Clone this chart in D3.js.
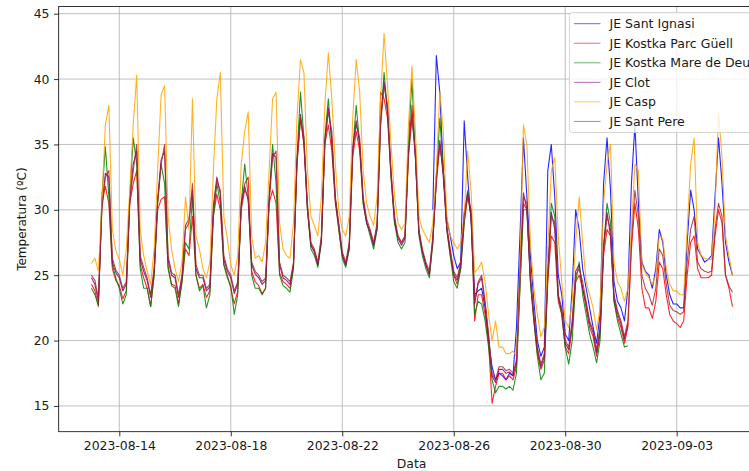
<!DOCTYPE html>
<html>
<head>
<meta charset="utf-8">
<script src="https://cdn.jsdelivr.net/npm/d3@7"></script>
<style>
body { margin: 0; background: #fff; overflow: hidden; }
svg { display: block; font-family: "DejaVu Sans", sans-serif; }
</style>
</head>
<body>
<div id="chart"></div>
<script>
// one row per day, samples every 3 hours (0h .. 21h); null = no reading
var days = ["2023-08-13", "2023-08-14", "2023-08-15", "2023-08-16", "2023-08-17", "2023-08-18",
	"2023-08-19", "2023-08-20", "2023-08-21", "2023-08-22", "2023-08-23", "2023-08-24",
	"2023-08-25", "2023-08-26", "2023-08-27", "2023-08-28", "2023-08-29", "2023-08-30",
	"2023-08-31", "2023-09-01", "2023-09-02", "2023-09-03", "2023-09-04", "2023-09-05"];
var sampleHours = [0, 3, 6, 9, 12, 15, 18, 21];
var xTickLabels = ["2023-08-14", "2023-08-18", "2023-08-22", "2023-08-26", "2023-08-30", "2023-09-03"];
var yTickValues = [15, 20, 25, 30, 35, 40, 45];

var santIgnasi = [
	null, null, null, null, null, null, null, null, null, null, null, null,
	[null, null, 30.0, 41.8, 39.0, 33.0, 29.3, 28.0],
	[26.5, 25.5, 26.0, 36.8, 32.5, 29.0, 23.5, 23.8],
	[24.0, 22.5, 20.0, 18.0, 17.0, 17.5, 17.3, 17.0],
	[17.5, 17.3, 21.0, 28.0, 35.5, 31.0, 26.5, 23.0],
	[20.0, 18.8, 19.5, 33.0, 35.0, 31.0, 25.0, 23.5],
	[20.5, 20.0, 24.0, 30.0, 28.5, 25.5, 24.0, 22.5],
	[21.0, 19.8, 22.0, 32.0, 35.5, 31.5, 24.5, 23.0],
	[22.5, 21.5, 24.0, 32.0, 36.5, 30.5, 26.0, 25.3],
	[25.0, 24.0, 25.5, 28.5, 27.5, 25.0, 23.5, 22.8],
	[22.8, 22.5, 22.5, 27.5, 31.5, 30.0, 27.0, 26.5],
	[26.0, 26.2, 26.5, 31.0, 35.5, 32.0, 27.5, 26.0],
	[25.0, null, null, null, null, null, null, null]
];
var kostkaParcGuell = [
	[24.3, 23.8, 22.6, 30.5, 31.8, 30.5, 25.5, 24.6],
	[24.2, 23.2, 23.8, 30.5, 32.0, 33.0, 25.8, 24.8],
	[24.0, 22.6, 25.0, 30.0, 30.8, 31.0, 25.7, 24.3],
	[24.2, 22.8, 24.5, 27.0, 26.5, 29.5, 25.0, 24.0],
	[24.3, 23.3, 23.8, 29.5, 31.2, 30.0, 25.8, 25.0],
	[24.0, 22.8, 23.8, 30.5, 32.0, 32.5, 25.3, 24.5],
	[24.2, 23.6, 24.0, 30.5, 31.5, 30.5, 25.2, 24.5],
	[24.3, 24.0, 25.8, 33.5, 37.0, 35.0, 30.0, 27.3],
	[26.8, 25.8, 27.5, 35.0, 36.5, 34.5, 30.5, 28.5],
	[26.5, 25.8, 27.0, 34.0, 36.0, 34.5, 30.5, 29.0],
	[28.3, 27.3, 28.5, 39.0, 38.5, 37.0, 32.5, 29.0],
	[28.0, 27.5, 28.0, 34.5, 38.0, 34.0, 28.3, 26.8],
	[25.8, 25.0, 27.5, 32.5, 35.0, 33.0, 28.5, 26.5],
	[25.0, 24.3, 25.5, 29.0, 31.0, 29.5, 21.5, 23.5],
	[23.5, 22.0, 19.8, 15.2, 16.5, 17.5, 17.5, 17.0],
	[17.3, 17.0, 18.0, 24.0, 30.5, 30.0, 24.5, 21.5],
	[19.0, 17.8, 18.5, 24.5, 28.0, 27.5, 23.0, 22.0],
	[19.5, 19.0, 21.0, 24.5, 25.0, 24.0, 22.5, 21.0],
	[20.3, 18.8, 20.5, 26.5, 28.5, 28.0, 23.0, 21.8],
	[21.0, 19.8, 21.0, 27.0, 30.5, 28.5, 24.0, 22.5],
	[22.5, 21.7, 23.0, 26.0, 25.5, 23.5, 22.0, 21.5],
	[21.3, 21.0, 21.5, 25.0, 27.5, 28.0, 25.5, 24.8],
	[24.8, 24.8, 25.0, 28.0, 30.0, 29.0, 25.0, 24.0],
	[22.6, null, null, null, null, null, null, null]
];
var kostkaMareDeDeu = [
	[24.0, 23.5, 22.7, 31.0, 34.8, 31.0, 25.8, 24.8],
	[24.0, 22.8, 23.5, 31.0, 35.5, 33.5, 25.5, 24.0],
	[24.0, 22.6, 25.0, 30.5, 33.5, 32.0, 25.5, 24.2],
	[24.0, 22.6, 24.5, 27.5, 27.0, 31.0, 25.0, 23.8],
	[24.2, 22.5, 23.5, 29.5, 32.0, 30.5, 25.8, 24.8],
	[24.2, 22.0, 23.5, 30.5, 33.5, 31.0, 25.0, 24.0],
	[24.0, 23.5, 24.0, 31.0, 35.0, 32.0, 25.0, 24.2],
	[24.0, 23.7, 25.5, 34.0, 39.0, 35.5, 30.0, 27.0],
	[26.5, 25.6, 27.5, 35.5, 38.5, 35.0, 31.0, 28.5],
	[26.3, 25.6, 27.0, 34.5, 38.0, 35.0, 30.5, 29.0],
	[28.0, 27.0, 28.5, 36.5, 40.5, 37.5, 32.5, 29.0],
	[27.5, 27.0, 27.5, 35.0, 40.0, 34.0, 28.0, 26.5],
	[25.5, 24.8, 27.5, 32.5, 37.0, 33.0, 28.5, 26.5],
	[24.5, 24.0, 25.5, 29.0, 31.5, 29.5, 22.0, 23.0],
	[22.8, 21.5, 19.5, 17.0, 16.0, 16.5, 16.5, 16.3],
	[16.5, 16.2, 17.5, 24.0, 30.0, 30.0, 24.5, 21.5],
	[18.8, 17.0, 17.5, 25.0, 30.5, 29.5, 23.5, 22.0],
	[19.5, 18.2, 20.0, 24.5, 26.0, 23.5, 22.0, 20.5],
	[19.5, 18.3, 20.0, 27.0, 30.5, 29.0, 23.0, 21.5],
	[20.5, 19.5, 19.6, null, null, null, null, null]
];
var clot = [
	[24.8, 24.3, 23.0, 30.2, 32.8, 32.5, 26.0, 25.2],
	[24.8, 23.8, 24.3, 30.8, 33.5, 34.5, 26.2, 25.3],
	[24.6, 23.3, 25.3, 30.8, 33.8, 34.5, 26.2, 25.0],
	[24.8, 23.3, 24.8, 28.8, 29.3, 31.5, 25.5, 24.8],
	[24.8, 23.8, 24.1, 30.3, 32.5, 31.2, 26.2, 25.3],
	[24.8, 23.6, 24.3, 30.3, 31.8, 30.7, 25.8, 25.1],
	[24.8, 24.3, 24.6, 30.8, 34.3, 34.0, 25.8, 24.8],
	[24.6, 24.3, 25.8, 33.8, 37.3, 35.0, 30.2, 27.3],
	[26.8, 25.8, 27.8, 35.3, 37.8, 35.5, 30.8, 28.8],
	[26.6, 25.8, 27.3, 34.8, 36.8, 35.0, 30.8, 29.0],
	[28.3, 27.3, 28.8, 36.8, 39.8, 37.5, 32.8, 29.3],
	[27.8, 27.3, 27.8, 34.3, 37.3, 34.0, 28.3, 26.8],
	[25.8, 25.1, 27.8, 32.3, 35.3, 32.5, 28.6, 26.8],
	[25.1, 24.6, 25.8, 29.8, 31.3, 29.5, 22.8, 24.3],
	[24.8, 22.8, 20.3, 17.3, 16.8, 17.8, 17.8, 17.5],
	[17.6, 17.3, 18.3, 25.3, 31.3, 30.0, 24.8, 21.8],
	[19.3, 18.0, 18.8, 25.3, 29.8, 28.5, 23.3, 22.3],
	[19.8, 19.3, 21.3, 25.3, 25.8, 24.0, 22.8, 21.3],
	[20.6, 19.1, 20.8, 27.3, 29.8, 28.0, 23.3, 22.1],
	[21.3, 20.1, 21.3, null, null, null, null, null]
];
var casp = [
	[25.9, 26.3, 25.3, 30.5, 36.5, 38.0, 28.5, 26.9],
	[26.2, 25.0, 27.0, 31.5, 36.5, 40.3, 28.5, 26.5],
	[25.3, 24.3, 27.0, 33.0, 38.8, 39.5, 29.5, 27.0],
	[25.5, 24.5, 26.0, 31.0, 28.5, 38.5, 28.0, 27.0],
	[25.5, 24.8, 26.0, 33.0, 38.5, 40.5, 29.5, 27.8],
	[25.8, 25.0, 26.5, 33.5, 36.0, 37.5, 28.0, 26.3],
	[26.5, 26.0, 27.5, 33.0, 38.5, 39.0, 29.0, 27.0],
	[26.5, 26.3, 29.0, 37.0, 41.5, 40.5, 33.0, 29.5],
	[28.8, 28.0, 31.0, 38.0, 42.0, 38.5, 33.5, 30.0],
	[28.5, 28.0, 29.5, 37.0, 41.5, 39.0, 33.0, 30.5],
	[29.5, 28.8, 31.0, 38.5, 43.5, 39.5, 35.0, 31.0],
	[29.0, 28.5, 29.0, 36.5, 41.0, 36.0, 29.5, 28.5],
	[28.0, 27.5, 29.0, 33.0, 39.0, 36.0, 29.5, 28.0],
	[27.5, 27.0, 27.5, 29.5, 34.5, 31.3, 25.2, 25.5],
	[26.0, 24.5, 22.0, 20.0, 21.5, 19.5, 19.5, 19.0],
	[19.0, 19.2, 18.8, 25.0, 36.5, 34.9, 27.5, 24.0],
	[22.0, 20.3, 21.0, 27.0, 33.0, 34.0, 28.0, 24.5],
	[21.5, 21.0, 23.0, 27.5, 31.0, 27.5, 24.5, 23.5],
	[22.5, 20.8, 22.5, 30.5, 33.5, 35.0, 26.0, 24.5],
	[24.0, 23.0, 24.0, 28.5, 33.5, 33.0, 25.8, 25.2],
	[24.8, 24.3, 25.0, 28.0, 27.8, 25.5, 24.3, 23.8],
	[23.8, 23.5, 23.5, 28.5, 33.5, 35.5, 27.5, 26.5],
	[26.3, 26.2, 26.2, 30.0, 37.5, 34.0, 28.0, 26.5],
	[25.0, null, null, null, null, null, null, null]
];
var santPere = [
	[25.0, 24.6, 23.2, 30.0, 32.5, 33.0, 26.3, 25.4],
	[25.0, 24.0, 24.5, 30.5, 33.0, 35.0, 26.5, 25.6],
	[24.8, 23.5, 25.5, 30.5, 33.5, 35.0, 26.5, 25.2],
	[25.0, 23.5, 25.0, 28.5, 29.0, 32.0, 25.8, 25.0],
	[25.0, 24.0, 24.3, 30.0, 32.2, 31.5, 26.5, 25.5],
	[25.0, 23.8, 24.5, 30.0, 31.5, 31.0, 26.0, 25.3],
	[25.0, 24.5, 24.8, 30.5, 34.0, 34.5, 26.0, 25.0],
	[24.8, 24.5, 26.0, 33.5, 37.0, 35.5, 30.5, 27.5],
	[27.0, 26.0, 28.0, 35.0, 37.5, 36.0, 31.0, 29.0],
	[26.8, 26.0, 27.5, 34.5, 36.5, 35.5, 31.0, 29.3],
	[28.5, 27.5, 29.0, 36.5, 39.5, 38.0, 33.0, 29.5],
	[28.0, 27.5, 28.0, 34.0, 37.0, 34.5, 28.5, 27.0],
	[26.0, 25.3, 28.0, 32.0, 35.0, 33.0, 28.8, 27.0],
	[25.3, 24.8, 26.0, 29.5, 31.0, 30.0, 23.0, 24.5],
	[25.0, 23.0, 20.5, 17.5, 17.0, 18.0, 18.0, 17.7],
	[17.8, 17.5, 18.5, 25.0, 31.0, 30.5, 25.0, 22.0],
	[19.5, 18.2, 19.0, 25.0, 29.5, 29.0, 23.5, 22.5],
	[20.0, 19.5, 21.5, 25.0, 25.5, 24.5, 23.0, 21.5],
	[20.8, 19.3, 21.0, 27.0, 29.5, 28.5, 23.5, 22.3],
	[21.5, 20.3, 21.5, 27.5, 31.5, 29.5, 25.0, 24.0],
	[23.5, 22.7, 24.0, 27.0, 26.5, 24.3, 22.7, 22.3],
	[22.2, 22.0, 22.2, 26.0, 28.5, 29.5, 26.0, 25.5],
	[25.3, 25.2, 25.3, 28.5, 30.5, 29.5, 25.0, 24.2],
	[23.7, null, null, null, null, null, null, null]
];

// drawing order as in the original plot (last one on top)
var series = [
	{ name: "JE Sant Ignasi", values: santIgnasi, color: "blue" },
	{ name: "JE Kostka Parc Güell", values: kostkaParcGuell, color: "red" },
	{ name: "JE Kostka Mare de Deu", values: kostkaMareDeDeu, color: "green" },
	{ name: "JE Clot", values: clot, color: "purple" },
	{ name: "JE Casp", values: casp, color: "orange" },
	{ name: "JE Sant Pere", values: santPere, color: "brown" }
];

var width = 749, height = 471;
// the axes box runs past the right edge of the picture
var plot = { left: 58.7, right: 764.5, top: 6.5, bottom: 431.7 };
var fontSize = "12.4px";
var textColor = "#1a1a1a";
var parseDay = d3.utcParse("%Y-%m-%d");

function toPoints(rows) {
	var pts = [];
	rows.forEach(function(row, i) {
		if (!row) { return; }
		row.forEach(function(v, j) {
			if (v === null) { return; }
			pts.push({ t: d3.utcHour.offset(parseDay(days[i]), sampleHours[j]), v: v });
		});
	});
	return pts;
}

var x = d3.scaleUtc()
	.domain([new Date(Date.UTC(2023, 7, 11, 19, 49)), new Date(Date.UTC(2023, 8, 6, 3, 36))])
	.range([plot.left, plot.right]);
var y = d3.scaleLinear()
	.domain([13.03, 45.55])
	.range([plot.bottom, plot.top]);

var svg = d3.select("#chart")
	.append("svg")
	.attr("width", width)
	.attr("height", height);

svg.append("defs").append("clipPath")
	.attr("id", "plotclip")
	.append("rect")
	.attr("x", plot.left)
	.attr("y", plot.top)
	.attr("width", plot.right - plot.left)
	.attr("height", plot.bottom - plot.top);

// grid
var xTicks = xTickLabels.map(parseDay);
svg.append("g").selectAll("line")
	.data(xTicks)
	.enter().append("line")
	.attr("x1", function(d) { return x(d); })
	.attr("x2", function(d) { return x(d); })
	.attr("y1", plot.top)
	.attr("y2", plot.bottom)
	.style("stroke", "#b0b0b0")
	.style("stroke-width", 0.8);
svg.append("g").selectAll("line")
	.data(yTickValues)
	.enter().append("line")
	.attr("x1", plot.left)
	.attr("x2", plot.right)
	.attr("y1", function(d) { return y(d); })
	.attr("y2", function(d) { return y(d); })
	.style("stroke", "#b0b0b0")
	.style("stroke-width", 0.8);

// lines
var line = d3.line()
	.defined(function(d) { return d.v !== null; })
	.x(function(d) { return x(d.t); })
	.y(function(d) { return y(d.v); });

svg.append("g")
	.attr("clip-path", "url(#plotclip)")
	.selectAll("path")
	.data(series)
	.enter().append("path")
	.attr("d", function(d) { return line(toPoints(d.values)); })
	.style("fill", "none")
	.style("stroke", function(d) { return d.color; })
	.style("stroke-width", 1.1)
	.style("stroke-opacity", 0.85)
	.style("stroke-linejoin", "round");

// axes
var xAxis = d3.axisBottom(x)
	.tickValues(xTicks)
	.tickFormat(d3.utcFormat("%Y-%m-%d"))
	.tickSize(4.7)
	.tickPadding(4.5);
var yAxis = d3.axisLeft(y)
	.tickValues(yTickValues)
	.tickSize(4.7)
	.tickPadding(4.5);

var gx = svg.append("g")
	.attr("transform", "translate(0," + plot.bottom + ")")
	.call(xAxis);
var gy = svg.append("g")
	.attr("transform", "translate(" + plot.left + ",0)")
	.call(yAxis);
[gx, gy].forEach(function(g) {
	g.select(".domain").remove();
	g.selectAll(".tick line").style("stroke", "#000").style("stroke-width", 0.8);
	g.selectAll(".tick text")
		.style("font-family", "DejaVu Sans")
		.style("font-size", fontSize)
		.style("fill", textColor);
});

// spines
svg.append("rect")
	.attr("x", plot.left)
	.attr("y", plot.top)
	.attr("width", plot.right - plot.left)
	.attr("height", plot.bottom - plot.top)
	.style("fill", "none")
	.style("stroke", "#000")
	.style("stroke-width", 0.8);

svg.append("text")
	.attr("x", (plot.left + plot.right) / 2)
	.attr("y", 468)
	.attr("text-anchor", "middle")
	.style("font-size", fontSize)
	.style("fill", textColor)
	.text("Data");

svg.append("text")
	.attr("transform", "translate(26," + ((plot.top + plot.bottom) / 2) + ") rotate(-90)")
	.attr("text-anchor", "middle")
	.style("font-size", "12px")
	.style("fill", textColor)
	.text("Temperatura (ºC)");

// legend (semi-transparent box, upper right)
var legend = svg.append("g").attr("transform", "translate(569.5,12.5)");
legend.append("rect")
	.attr("width", 200)
	.attr("height", 120)
	.attr("rx", 3)
	.style("fill", "#fff")
	.style("fill-opacity", 0.8)
	.style("stroke", "#cccccc")
	.style("stroke-width", 0.8);
var item = legend.selectAll(".item")
	.data(series)
	.enter().append("g")
	.attr("class", "item")
	.attr("transform", function(d, i) { return "translate(0," + (11.2 + i * 19.55) + ")"; });
item.append("line")
	.attr("x1", 4.5)
	.attr("x2", 31)
	.style("stroke", function(d) { return d.color; })
	.style("stroke-width", 1)
	.style("stroke-opacity", 0.6);
item.append("text")
	.attr("x", 40)
	.attr("dy", "0.35em")
	.style("font-size", "12.5px")
	.style("fill", textColor)
	.text(function(d) { return d.name; });
</script>
</body>
</html>
